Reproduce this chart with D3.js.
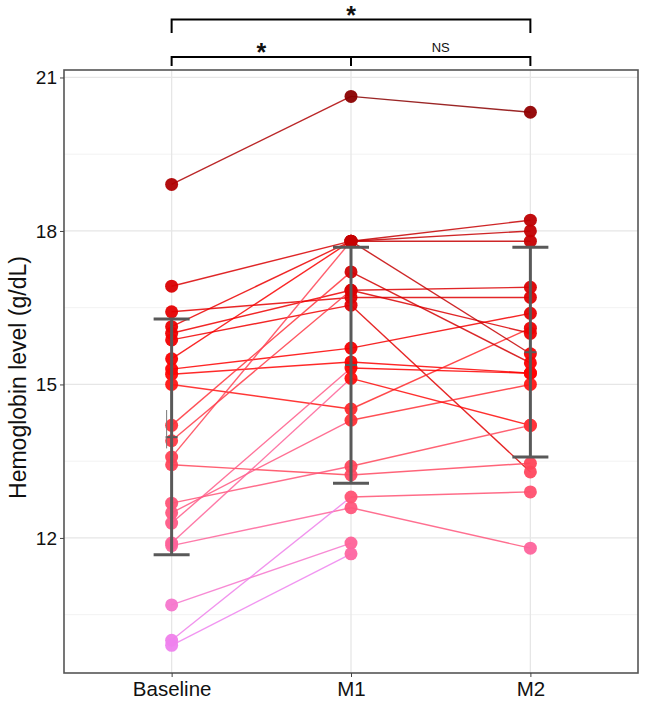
<!DOCTYPE html>
<html><head><meta charset="utf-8">
<script src="https://cdn.jsdelivr.net/npm/d3@7"></script>
<style>body{margin:0;background:#fff}svg{display:block}</style>
</head><body>
<svg id="c" width="645" height="709"></svg>
<script>
const categories = ["Baseline", "M1", "M2"];
const baseline = [18.91,16.92,16.42,16.13,16.0,15.87,15.5,15.3,15.2,15.0,14.2,13.9,13.58,13.43,12.68,12.49,12.29,11.9,11.85,10.69,10.0,9.9];
const m1 =       [20.63,17.8,16.7,17.8,16.84,16.55,17.8,15.71,15.44,14.52,17.2,16.84,17.8,13.23,13.4,14.3,15.32,15.12,12.59,11.9,12.8,11.69];
const m2 =       [20.32,18.21,16.7,18.0,16.9,13.29,17.8,16.39,15.22,16.1,15.42,16.0,15.6,13.46,14.2,15.0,15.22,14.2,11.8,null,12.9,null];
const barMean = [13.97, 15.38, 15.63];
const barLow  = [11.67, 13.07, 13.58];
const barHigh = [16.28, 17.68, 17.68];
const yTicks = [12, 15, 18, 21];
const yMinor = [10.5, 13.5, 16.5, 19.5];
const comparisons = [
  {from: "Baseline", to: "M2", label: "*", level: 1},
  {from: "Baseline", to: "M1", label: "*", level: 0},
  {from: "M1", to: "M2", label: "NS", level: 0}
];

const svg = d3.select("#c");
const L = 64, R = 638, T = 70, B = 673;
const x = d3.scalePoint().domain(categories).range([L, R]).padding(0.6);
const y = d3.scaleLinear().domain([9.36, 21.146]).range([B, T]);
const color = d3.scaleLinear().domain([9.9, 15.25, 20.6])
  .range(["violet", "red", "darkred"]).interpolate(d3.interpolateLab);

// grid
const g = svg.append("g");
g.selectAll(".minor").data(yMinor).join("line")
  .attr("x1", L).attr("x2", R).attr("y1", d => y(d)).attr("y2", d => y(d))
  .attr("stroke", "#f2f2f2").attr("stroke-width", 1);
g.selectAll(".major").data(yTicks).join("line")
  .attr("x1", L).attr("x2", R).attr("y1", d => y(d)).attr("y2", d => y(d))
  .attr("stroke", "#e6e6e6").attr("stroke-width", 1.3);
g.selectAll(".vx").data(categories).join("line")
  .attr("x1", d => x(d)).attr("x2", d => x(d)).attr("y1", T).attr("y2", B)
  .attr("stroke", "#e6e6e6").attr("stroke-width", 1.3);

// subjects
const subjects = baseline.map((b, i) => [b, m1[i], m2[i]]);
const segs = [];
subjects.forEach(s => {
  for (let k = 0; k < 2; k++) {
    if (s[k] != null && s[k + 1] != null) segs.push({k, a: s[k], b: s[k + 1]});
  }
});
svg.append("g").selectAll("line").data(segs).join("line")
  .attr("x1", d => x(categories[d.k])).attr("x2", d => x(categories[d.k + 1]))
  .attr("y1", d => y(d.a)).attr("y2", d => y(d.b))
  .attr("stroke", d => color(d.a)).attr("stroke-width", 1.4).attr("stroke-opacity", 0.85);

const pts = [];
subjects.forEach(s => s.forEach((v, k) => { if (v != null) pts.push({k, v}); }));
svg.append("g").selectAll("circle").data(pts).join("circle")
  .attr("cx", d => x(categories[d.k])).attr("cy", d => y(d.v)).attr("r", 6.5)
  .attr("fill", d => color(d.v)).attr("fill-opacity", 0.95);

// error bars
const eb = svg.append("g").attr("stroke", "#595959").attr("stroke-width", 3);
categories.forEach((c, i) => {
  const cx = x(c);
  eb.append("line").attr("x1", cx).attr("x2", cx).attr("y1", y(barLow[i])).attr("y2", y(barHigh[i]));
  eb.append("line").attr("x1", cx - 18).attr("x2", cx + 18).attr("y1", y(barLow[i])).attr("y2", y(barLow[i]));
  eb.append("line").attr("x1", cx - 18).attr("x2", cx + 18).attr("y1", y(barHigh[i])).attr("y2", y(barHigh[i]));
  eb.append("line").attr("x1", cx - 6).attr("x2", cx + 6).attr("y1", y(barMean[i])).attr("y2", y(barMean[i])).attr("stroke-width", 2);
});
// thin artifact line near baseline
svg.append("line").attr("x1", x("Baseline") - 5).attr("x2", x("Baseline") - 5)
  .attr("y1", y(14.5)).attr("y2", y(13.75)).attr("stroke", "#777").attr("stroke-width", 1);

// panel border
svg.append("rect").attr("x", L).attr("y", T).attr("width", R - L).attr("height", B - T)
  .attr("fill", "none").attr("stroke", "#555").attr("stroke-width", 1.6);

// axes
const yAx = svg.append("g").attr("transform", `translate(${L},0)`)
  .call(d3.axisLeft(y).tickValues(yTicks).tickSize(4).tickPadding(3));
yAx.select(".domain").remove();
yAx.selectAll("line").attr("stroke", "#444");
yAx.selectAll("text").attr("font-family", "Liberation Sans, Arial, sans-serif")
  .attr("font-size", 19).attr("fill", "#111");

const xAx = svg.append("g").attr("transform", `translate(0,${B})`)
  .call(d3.axisBottom(x).tickSize(4).tickPadding(4));
xAx.select(".domain").remove();
xAx.selectAll("line").attr("stroke", "#444");
xAx.selectAll("text").attr("font-family", "Liberation Sans, Arial, sans-serif")
  .attr("font-size", 20.5).attr("fill", "#111");

svg.append("text").attr("transform", `translate(26,${(T + B) / 2 + 6}) rotate(-90)`)
  .attr("text-anchor", "middle").attr("font-family", "Liberation Sans, Arial, sans-serif")
  .attr("font-size", 23).attr("fill", "#111").text("Hemoglobin level (g/dL)");

// significance brackets
const br = svg.append("g");
comparisons.forEach(c => {
  const x1 = x(c.from), x2 = x(c.to);
  const yh = c.level === 1 ? 19.5 : 57, yl = c.level === 1 ? 33 : 66;
  br.append("path").attr("d", `M${x1},${yl}V${yh}H${x2}V${yl}`)
    .attr("fill", "none").attr("stroke", "#000").attr("stroke-width", 2);
  const isStar = c.label === "*";
  br.append("text").attr("x", (x1 + x2) / 2).attr("y", isStar ? yh + 4 : yh - 5)
    .attr("text-anchor", "middle")
    .attr("font-family", isStar ? "Liberation Sans, Arial, sans-serif" : "Liberation Sans Narrow, Liberation Sans, Arial, sans-serif")
    .attr("font-size", isStar ? 25 : 13).attr("font-weight", isStar ? "bold" : "normal").attr("fill", "#111")
    .text(c.label);
});
</script>
</body></html>
